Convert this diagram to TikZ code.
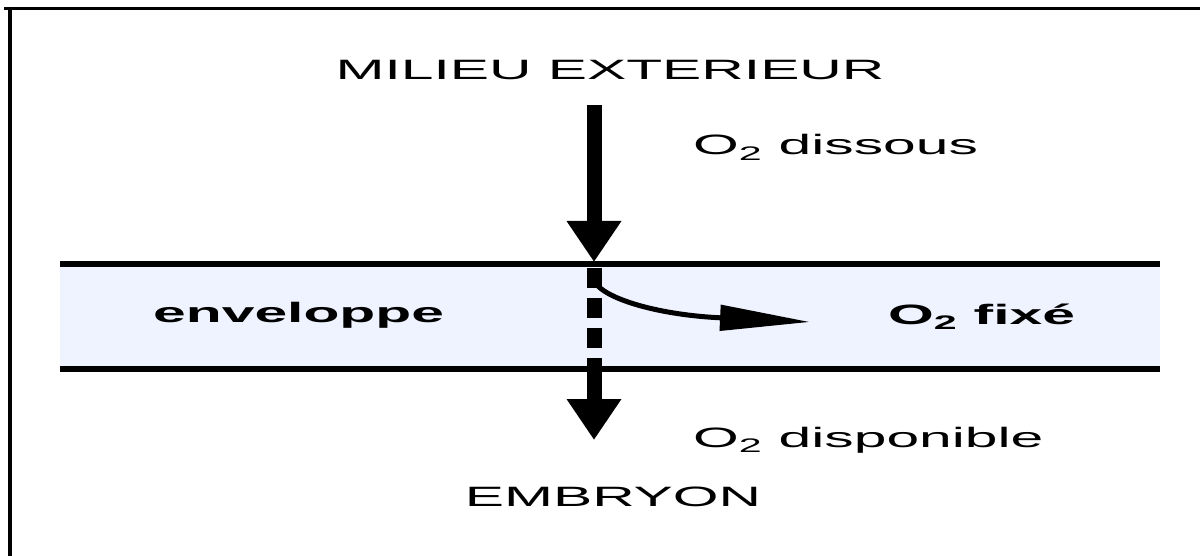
\documentclass[tikz,border=0pt]{standalone}
\usepackage{fontspec}
\setmainfont{Liberation Sans}
\newfontfamily\widefont[FakeStretch=2.1]{Liberation Sans}
\usepackage{tikz}
\usetikzlibrary{arrows.meta}
\usetikzlibrary{positioning}
\definecolor{envblue}{RGB}{238,243,255}

\begin{document}
\begin{tikzpicture}[
    x=1pt, y=-1pt,
    lbl/.style={
        inner sep=0pt,
        font={\widefont\fontsize{28}{34}\selectfont}
    },
    boldlbl/.style={
        inner sep=0pt,
        font={\widefont\bfseries\fontsize{28}{34}\selectfont}
    },
    band/.style={
        rectangle,
        fill=envblue,
        inner sep=0pt,
        minimum width=1100pt,
        minimum height=105pt
    },
    wall/.style={
        line width=5.5pt
    },
    flux/.style={
        line width=15pt,
        -{Triangle[length=41pt,width=52pt]}
    },
    fixe/.style={
        line width=5pt,
        -{Triangle[length=90pt,width=25pt]}
    }
]
\useasboundingbox (0,0) rectangle (1200,556);
% --- cadre ---
\draw[line width=3pt] (4,9) -- (1200,9);
\draw[line width=3.5pt] (10,9) -- (10,556);

% --- enveloppe ---
\node[band] (env) at (610,316.5) {};
\draw[wall] (env.north west) -- (env.north east);
\draw[wall] (env.south west) -- (env.south east);

% --- textes ---
\node[lbl, anchor=base] (ext) at (610,80) {MILIEU EXTERIEUR};
\node[lbl, anchor=base west] (diss) at (693,155) {O\textsubscript{2} dissous};
\node[boldlbl, anchor=base west] (envlbl) at (153,322) {enveloppe};
\node[boldlbl, anchor=base west] (fix) at (888,324) {O\textsubscript{2} fixé};
\node[lbl, anchor=base west] (dispo) at (693,447) {O\textsubscript{2} disponible};
\node[lbl, anchor=base] (emb) at (613,506) {EMBRYON};

% --- flux d'O2 ---
\coordinate (src) at (594,105);
\coordinate (entree) at (594,262);
\coordinate (tirets) at (594,268);
\coordinate (sortie) at (594,358);
\coordinate (tip) at (594,440);
\coordinate (depart) at (597,285);
\coordinate (cible) at (810,322);
\draw[flux] (src) -- (entree);
\draw[line width=15pt, dash pattern=on 20pt off 10pt] (tirets) -- (sortie);
\draw[flux] (sortie) -- (tip);
\draw[fixe] (depart) .. controls (610,300) and (660,315) .. (cible);
\end{tikzpicture}
\end{document}
